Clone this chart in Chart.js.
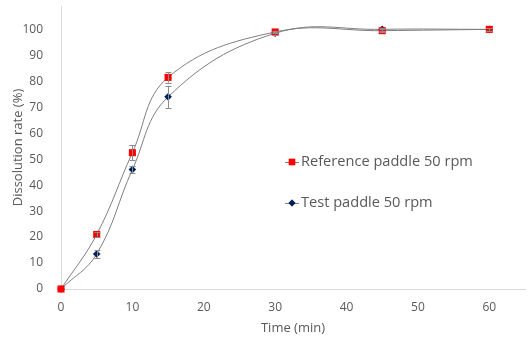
<!DOCTYPE html>
<html><head><meta charset="utf-8">
<script src="https://cdn.jsdelivr.net/npm/chart.js@4/dist/chart.umd.min.js"></script>
<style>html,body{margin:0;padding:0;background:#fff}#w{width:530px;height:338px}</style>
</head><body><div id="w"><canvas id="c"></canvas></div>
<script>
const times = [0, 5, 10, 15, 30, 45, 60];
const refValues = [0, 21, 52.5, 81.5, 99, 99.5, 100];
const refErrors = [0, 0.8, 3, 2, 0.5, 0.6, 0.5];
const testValues = [0, 13.5, 46, 74, 98.5, 100, 100];
const testErrors = [0, 1.5, 1.5, 4.3, 0.5, 0.5, 0.5];
const refLabel = 'Reference paddle 50 rpm';
const testLabel = 'Test paddle 50 rpm';
const xTicks = [0, 10, 20, 30, 40, 50, 60];
const yTicks = [0, 10, 20, 30, 40, 50, 60, 70, 80, 90, 100];

const FONT = "'Open Sans', 'Liberation Sans', sans-serif";
const TXT = '#595959';

const errorBars = {
  id: 'errorBars',
  afterDatasetsDraw(chart) {
    const ctx = chart.ctx, xs = chart.scales.x, ys = chart.scales.y;
    ctx.save();
    ctx.strokeStyle = '#8c8c8c';
    ctx.lineWidth = 1;
    chart.data.datasets.forEach(ds => {
      ds.data.forEach((p, i) => {
        const e = ds.errors[i];
        if (!e) return;
        const x = Math.round(xs.getPixelForValue(p.x)) + 0.5;
        const y1 = ys.getPixelForValue(p.y - e), y2 = ys.getPixelForValue(p.y + e);
        ctx.beginPath();
        ctx.moveTo(x, y1); ctx.lineTo(x, y2);
        ctx.moveTo(x - 3, Math.round(y1) + 0.5); ctx.lineTo(x + 3, Math.round(y1) + 0.5);
        ctx.moveTo(x - 3, Math.round(y2) + 0.5); ctx.lineTo(x + 3, Math.round(y2) + 0.5);
        ctx.stroke();
      });
    });
    ctx.restore();
  }
};

const customLegend = {
  id: 'customLegend',
  afterDraw(chart) {
    const ctx = chart.ctx;
    const items = [
      {label: refLabel, y: 162, style: 'rect', color: '#ff0000', r: 4.5},
      {label: testLabel, y: 203, style: 'rectRot', color: '#002060', r: 3.5}
    ];
    ctx.save();
    items.forEach(it => {
      ctx.strokeStyle = '#7f7f7f';
      ctx.lineWidth = 1;
      ctx.beginPath();
      ctx.moveTo(285, it.y + 0.5); ctx.lineTo(299, it.y + 0.5);
      ctx.stroke();
      Chart.helpers.drawPoint(ctx, {pointStyle: it.style, radius: it.r, borderWidth: 0, rotation: 0}, 292, it.y);
      ctx.fillStyle = it.color;
      ctx.fill();
      ctx.fillStyle = TXT;
      ctx.font = "14.6px " + FONT;
      ctx.textBaseline = 'middle';
      ctx.textAlign = 'left';
      ctx.fillText(it.label, 301, it.y);
    });
    ctx.restore();
  }
};

new Chart(document.getElementById('c'), {
  type: 'line',
  data: {
    datasets: [
      {
        label: refLabel,
        data: times.map((t, i) => ({x: t, y: refValues[i]})),
        errors: refErrors,
        borderColor: '#7f7f7f', borderWidth: 1, tension: 0.4, clip: false,
        pointStyle: 'rect', pointRadius: 5, pointBackgroundColor: '#ff0000', pointBorderWidth: 0,
        fill: false
      },
      {
        label: testLabel,
        data: times.map((t, i) => ({x: t, y: testValues[i]})),
        errors: testErrors,
        borderColor: '#7f7f7f', borderWidth: 1, tension: 0.4, clip: false,
        pointStyle: 'rectRot', pointRadius: 3.8, pointBackgroundColor: '#002060', pointBorderWidth: 0,
        fill: false
      }
    ]
  },
  options: {
    responsive: true, maintainAspectRatio: false, animation: false,
    layout: {padding: {left: 0, right: 4, top: 6, bottom: 0}},
    plugins: {legend: {display: false}, tooltip: {enabled: false}},
    scales: {
      x: {
        type: 'linear', min: 0, max: 65,
        grid: {display: false},
        border: {display: true, color: '#d9d9d9'},
        afterBuildTicks: s => { s.ticks = xTicks.map(v => ({value: v})); },
        afterFit: s => { s.height = 49; s.paddingLeft = 0; s.paddingRight = 0; },
        ticks: {color: TXT, font: {family: FONT, size: 12}, padding: 3},
        title: {display: true, text: 'Time (min)', color: TXT, font: {family: FONT, size: 13}, padding: {top: 2, bottom: 2}}
      },
      y: {
        type: 'linear', min: 0, max: 109,
        grid: {display: false},
        border: {display: true, color: '#d9d9d9'},
        afterBuildTicks: s => { s.ticks = yTicks.map(v => ({value: v})); },
        afterFit: s => { s.width = 61; s.paddingTop = 0; s.paddingBottom = 0; },
        ticks: {color: TXT, font: {family: FONT, size: 12}, padding: 10},
        title: {display: true, text: 'Dissolution rate (%)', color: TXT, font: {family: FONT, size: 13}, padding: {top: 10, bottom: 2}}
      }
    }
  },
  plugins: [errorBars, customLegend]
});
</script></body></html>
